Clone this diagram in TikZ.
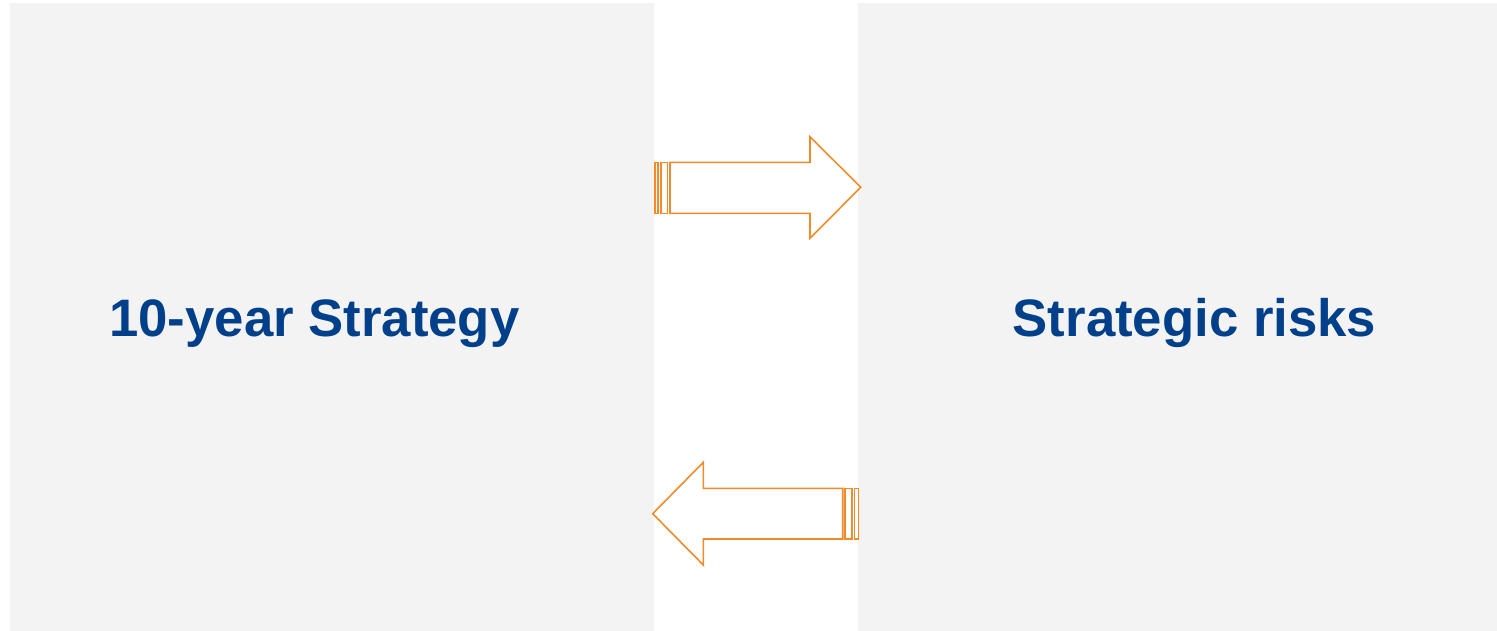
\documentclass[tikz,border=0pt]{standalone}
\usepackage{fontspec}
\setmainfont{Liberation Sans}
\usetikzlibrary{positioning}
\definecolor{panelGrey}{HTML}{F3F3F3}
\definecolor{titleBlue}{HTML}{003F8A}
\definecolor{arrowOrange}{HTML}{F28A2A}

\begin{document}
\begin{tikzpicture}[
    panel/.style={fill=panelGrey, inner sep=0pt, minimum height=12.56cm, anchor=south west},
    title/.style={text=titleBlue, font=\bfseries\fontsize{30}{36}\selectfont, anchor=base},
    blockarrow/.style={draw=arrowOrange, line width=0.9pt, fill=white}]
    \useasboundingbox (0,0) rectangle (29.94,12.62);

    % deux panneaux
    \node[panel, minimum width=12.88cm] (strategy) at (0.2,0) {};
    \node[panel, minimum width=12.78cm] (risks) at (17.16,0) {};

    \node[title] (strategyTitle) at (6.29,5.886) {10-year Strategy};
    \node[title] (risksTitle) at (23.89,5.886) {Strategic risks};

    % fleche vers la droite
    \draw[blockarrow] (13.4,8.354) -- (16.2,8.354) -- (16.2,7.854) -- (17.214,8.874)
      -- (16.2,9.886) -- (16.2,9.374) -- (13.4,9.374) -- cycle;
    \foreach \a/\b in {13.094/13.16, 13.214/13.346}
      \draw[blockarrow] (\a,8.354) rectangle (\b,9.374);

    % fleche vers la gauche
    \draw[blockarrow] (16.854,1.84) -- (14.066,1.84) -- (14.066,1.32) -- (13.054,2.346)
      -- (14.066,3.374) -- (14.066,2.854) -- (16.854,2.854) -- cycle;
    \foreach \a/\b in {16.9/17.04, 17.086/17.166}
      \draw[blockarrow] (\a,1.84) rectangle (\b,2.854);
\end{tikzpicture}
\end{document}
